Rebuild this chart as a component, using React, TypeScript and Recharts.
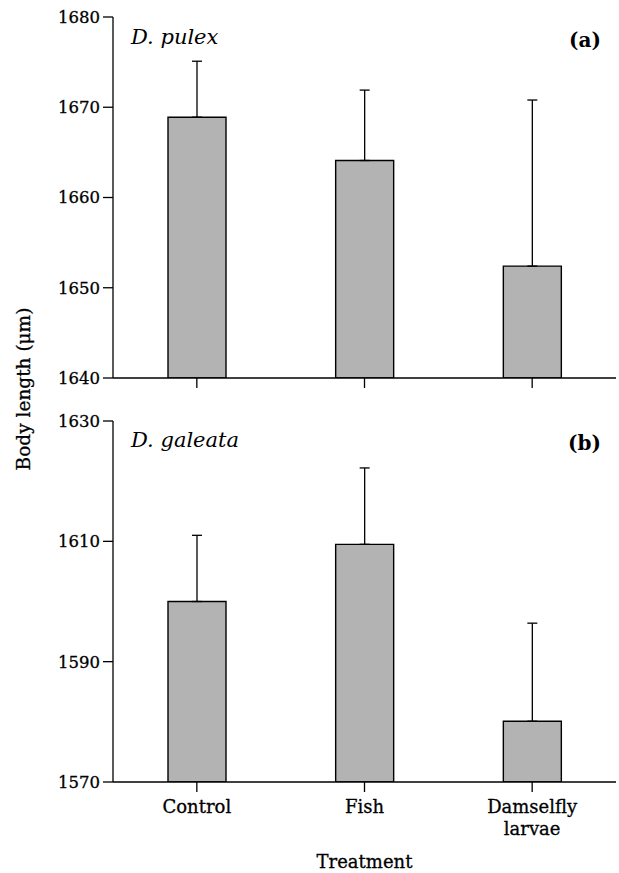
import { BarChart, Bar, XAxis, YAxis, ErrorBar } from "recharts";

const categories = ["Control", "Fish", "Damselfly larvae"];

// D. pulex (a)
const pulexMean = [1668.9, 1664.1, 1652.4];
const pulexErr = [6.2, 7.8, 18.4];
const pulexTicks = [1640, 1650, 1660, 1670, 1680];

// D. galeata (b)
const galeataMean = [1600.0, 1609.5, 1580.1];
const galeataErr = [11.0, 12.7, 16.3];
const galeataTicks = [1570, 1590, 1610, 1630];

const pulexData = categories.map((c, i) => ({
  name: c,
  value: pulexMean[i],
  err: [0, pulexErr[i]],
}));
const galeataData = categories.map((c, i) => ({
  name: c,
  value: galeataMean[i],
  err: [0, galeataErr[i]],
}));

const FONT = "'DejaVu Serif', serif";
const tickStyle = {
  fill: "#000",
  stroke: "#000",
  strokeWidth: 0.3,
  fontSize: 16.5,
  fontFamily: FONT,
};

const CatTick = (props: any) => {
  const { x, y, payload } = props;
  const lines = String(payload.value).split(" ");
  return (
    <text
      x={x}
      y={y}
      textAnchor="middle"
      fill="#000"
      stroke="#000"
      strokeWidth={0.3}
      fontSize={18}
      fontFamily={FONT}
    >
      {lines.map((l, i) => (
        <tspan key={i} x={x} dy={i === 0 ? 19 : 22}>
          {l}
        </tspan>
      ))}
    </text>
  );
};

const Panel = ({ data, domain, ticks, top, height, marginTop, xHeight, bottom }: any) => (
  <div style={{ position: "absolute", left: 0, top, width: 619, height }}>
    <BarChart
      width={619}
      height={height}
      data={data}
      margin={{ top: marginTop, right: 3, bottom: 0, left: 0 }}
      barSize={58}
    >
      <XAxis
        dataKey="name"
        height={xHeight}
        stroke="#000"
        strokeWidth={1.3}
        tickSize={10}
        tickMargin={2}
        tickLine={{ stroke: "#000", strokeWidth: 1.3 }}
        tick={bottom ? <CatTick /> : () => <g />}
        interval={0}
        label={
          bottom
            ? {
                value: "Treatment",
                position: "insideBottom",
                offset: 5,
                fill: "#000",
                stroke: "#000",
                strokeWidth: 0.3,
                fontSize: 18,
                fontFamily: FONT,
              }
            : undefined
        }
      />
      <XAxis
        xAxisId="top"
        dataKey="name"
        orientation="top"
        height={0}
        stroke="#000"
        strokeWidth={1.3}
        tick={false}
        tickLine={false}
      />
      <YAxis
        domain={domain}
        ticks={ticks}
        width={113}
        stroke="#000"
        strokeWidth={1.3}
        tickSize={10}
        tickMargin={3}
        tick={tickStyle}
        tickLine={{ stroke: "#000", strokeWidth: 1.3 }}
        allowDataOverflow
      />
      <YAxis
        yAxisId="right"
        orientation="right"
        domain={domain}
        width={0}
        stroke="#000"
        strokeWidth={1.3}
        tick={false}
        tickLine={false}
      />
      <Bar
        dataKey="value"
        fill="#b3b3b3"
        stroke="#000"
        strokeWidth={1.4}
        isAnimationActive={false}
      >
        <ErrorBar
          dataKey="err"
          width={5}
          stroke="#000"
          strokeWidth={1.3}
          direction="y"
        />
      </Bar>
    </BarChart>
  </div>
);

const textBase: any = {
  position: "absolute",
  fontFamily: FONT,
  color: "#000",
  lineHeight: 1,
  whiteSpace: "nowrap",
  WebkitTextStroke: "0.3px #000",
};

export default function App() {
  return (
    <div
      style={{
        position: "absolute",
        left: 0,
        top: 0,
        width: 619,
        height: 873,
        background: "#fff",
      }}
    >
      <Panel
        data={pulexData}
        domain={[1640, 1680]}
        ticks={pulexTicks}
        top={0}
        height={400}
        marginTop={17}
        xHeight={22}
        bottom={false}
      />
      <Panel
        data={galeataData}
        domain={[1570, 1630]}
        ticks={galeataTicks}
        top={400}
        height={473}
        marginTop={21}
        xHeight={91}
        bottom={true}
      />
      <div style={{ ...textBase, left: 131, top: 27, fontSize: 21, fontStyle: "italic", WebkitTextStroke: "0" }}>
        D. pulex
      </div>
      <div style={{ ...textBase, right: 18, top: 30, fontSize: 20, fontWeight: "bold", WebkitTextStroke: "0" }}>
        (a)
      </div>
      <div style={{ ...textBase, left: 131, top: 430, fontSize: 21, fontStyle: "italic", WebkitTextStroke: "0" }}>
        D. galeata
      </div>
      <div style={{ ...textBase, right: 18, top: 433, fontSize: 20, fontWeight: "bold", WebkitTextStroke: "0" }}>
        (b)
      </div>
      <div
        style={{
          ...textBase,
          left: 24,
          top: 389,
          fontSize: 18.5,
          transform: "translate(-50%, -50%) rotate(-90deg)",
        }}
      >
        Body length (μm)
      </div>
    </div>
  );
}
